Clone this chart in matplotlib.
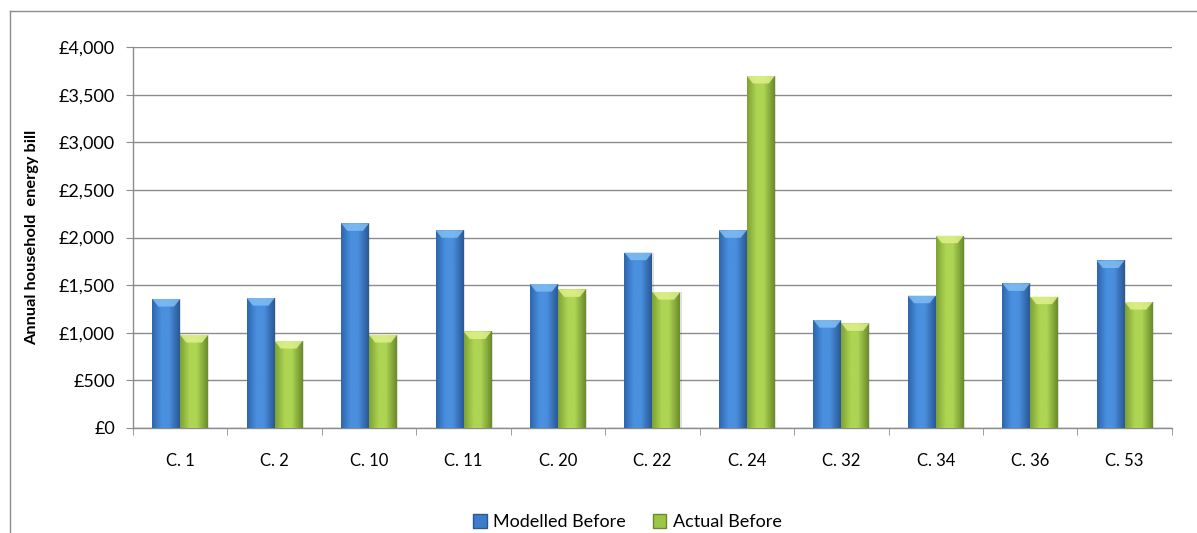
"""Annual household energy bill: modelled vs actual, before retrofit."""

import numpy as np
import matplotlib
matplotlib.use("Agg")
import matplotlib.pyplot as plt
from matplotlib.colors import LinearSegmentedColormap
from matplotlib.patches import Polygon
from matplotlib.lines import Line2D
from matplotlib.ticker import FuncFormatter

categories = ["C. 1", "C. 2", "C. 10", "C. 11", "C. 20", "C. 22", "C. 24", "C. 32", "C. 34", "C. 36", "C. 53"]
modelled_before = [1355, 1365, 2150, 2077, 1512, 1842, 2077, 1134, 1390, 1520, 1760]
actual_before = [977, 914, 977, 1015, 1457, 1428, 3697, 1100, 2020, 1380, 1323]
series_names = ["Modelled Before", "Actual Before"]
y_ticks = [0, 500, 1000, 1500, 2000, 2500, 3000, 3500, 4000]

# left edge, highlight, right edge, top bevel
blue_shades = ["#2D66AE", "#4A90DF", "#2A5894", "#80BEF4"]
green_shades = ["#7DA235", "#AED553", "#6A8B2B", "#DFF18C"]

plt.rcParams["font.family"] = ["Lato", "DejaVu Sans"]


def shade_bars(ax, bars, shades):
    cmap = LinearSegmentedColormap.from_list(
        "cyl", [(0, shades[0]), (0.35, shades[1]), (0.6, shades[1]), (1, shades[2])]
    )
    grad = np.linspace(0, 1, 64).reshape(1, -1)
    for b in bars:
        x0, y0 = b.get_x(), b.get_y()
        w, h = b.get_width(), b.get_height()
        im = ax.imshow(grad, cmap=cmap, extent=[x0, x0 + w, y0, y0 + h],
                       aspect="auto", interpolation="bicubic", zorder=3)
        im.set_clip_path(b)
        # bevelled top
        d = 80
        inset = w * 0.22
        top = Polygon([(x0, y0 + h), (x0 + w, y0 + h), (x0 + w - inset, y0 + h - d),
                       (x0 + inset, y0 + h - d)], closed=True,
                      facecolor=shades[3], edgecolor="none", alpha=0.85, zorder=4)
        ax.add_patch(top)
        # faint shadow
        ax.add_patch(plt.Rectangle((x0 + w, y0), 0.012, h, facecolor="#000000",
                                   alpha=0.12, edgecolor="none", zorder=2))


def create_plot() -> None:
    fig = plt.figure(figsize=(11.97, 5.33), dpi=100)
    ax = fig.add_axes([0.1111, 0.197, 0.979 - 0.1111, 0.9118 - 0.197])

    x = np.arange(len(categories))
    width = 0.296
    b1 = ax.bar(x - width / 2, modelled_before, width, color=blue_shades[1], zorder=3,
                label=series_names[0], linewidth=0)
    b2 = ax.bar(x + width / 2, actual_before, width, color=green_shades[1], zorder=3,
                label=series_names[1], linewidth=0)
    shade_bars(ax, b1, blue_shades)
    shade_bars(ax, b2, green_shades)

    ax.set_xlim(-0.5, len(categories) - 0.5)
    ax.set_ylim(0, 4000)
    ax.set_yticks(y_ticks)
    ax.yaxis.set_major_formatter(FuncFormatter(lambda v, p: f"£{v:,.0f}"))
    ax.yaxis.grid(True, color="#8C8C8C", linewidth=1.0, zorder=0)
    ax.set_axisbelow(True)

    ax.set_xticks(x)
    ax.set_xticklabels(categories)
    ax.set_xticks(np.arange(-0.5, len(categories)), minor=True)
    ax.tick_params(axis="x", which="major", length=0, pad=18, labelsize=12)
    ax.tick_params(axis="x", which="minor", length=5, color="#8C8C8C", direction="out")
    ax.tick_params(axis="y", length=5, color="#8C8C8C", direction="out", labelsize=13, pad=8)

    for s in ["top", "right"]:
        ax.spines[s].set_visible(False)
    for s in ["left", "bottom"]:
        ax.spines[s].set_color("#8C8C8C")
        ax.spines[s].set_linewidth(1.0)

    ax.set_ylabel("Annual household  energy bill", fontsize=11.8, fontweight="bold", labelpad=14)

    handles = [
        plt.Rectangle((0, 0), 1, 1, facecolor="#3C7CCB", edgecolor="#2A5894"),
        plt.Rectangle((0, 0), 1, 1, facecolor="#9CC645", edgecolor="#6A8B2B"),
    ]
    fig.legend(handles, series_names, loc="center", bbox_to_anchor=(0.524, 0.02),
               ncol=2, frameon=False, fontsize=13, handlelength=0.75, handleheight=0.75,
               handletextpad=0.35, columnspacing=1.5)

    # outer chart frame (top and left edges visible)
    fig.add_artist(Line2D([10 / 1197, 1], [1 - 11 / 533, 1 - 11 / 533], color="#8C8C8C", lw=1.0))
    fig.add_artist(Line2D([10 / 1197, 10 / 1197], [0, 1 - 11 / 533], color="#8C8C8C", lw=1.0))

    fig.savefig("out.png", dpi=100)


if __name__ == "__main__":
    create_plot()
